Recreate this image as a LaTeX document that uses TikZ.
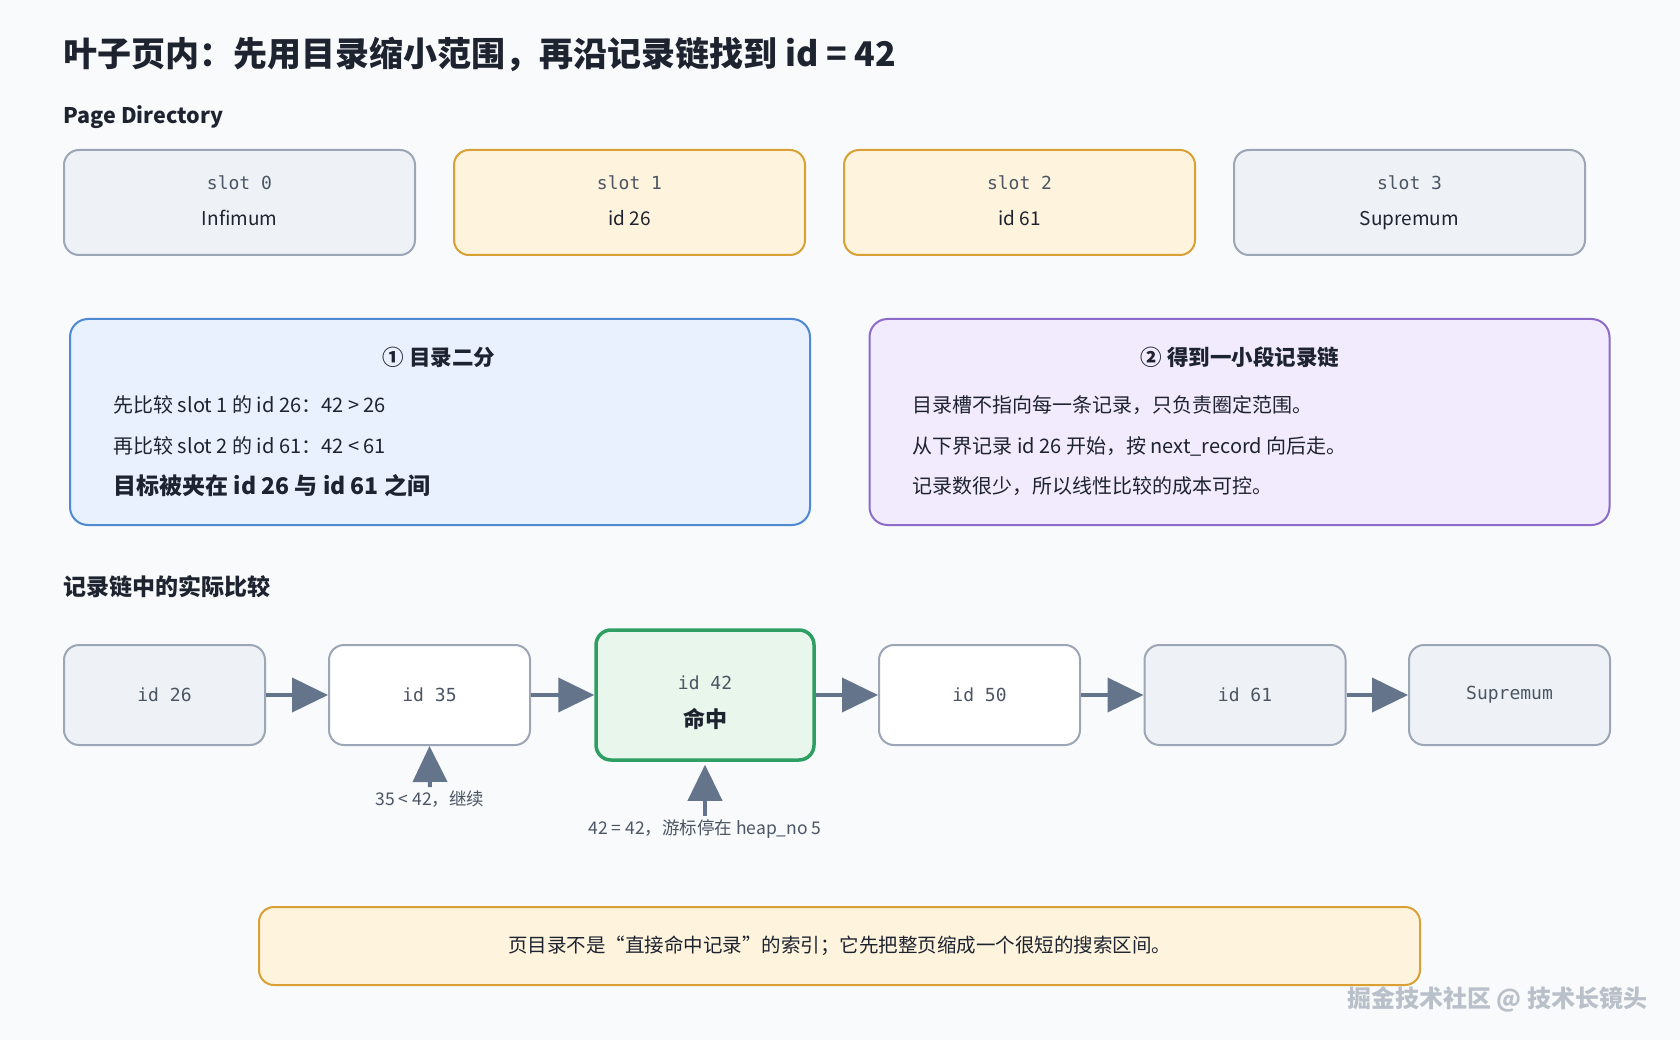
\documentclass[tikz,border=0pt]{standalone}
\usepackage{fontspec}
\setmainfont{Noto Sans CJK SC}
\newfontfamily\monofont{DejaVu Sans Mono}
\usetikzlibrary{arrows.meta}

\definecolor{pagebg}{HTML}{F8FAFC}
\definecolor{inkdark}{HTML}{1E2330}
\definecolor{inkmono}{HTML}{4B5563}
\definecolor{slateline}{HTML}{9CA6B6}
\definecolor{slatefill}{HTML}{EEF2F7}
\definecolor{amberline}{HTML}{D9A036}
\definecolor{amberfill}{HTML}{FEF4DD}
\definecolor{blueline}{HTML}{4F88D3}
\definecolor{bluefill}{HTML}{E8F1FD}
\definecolor{purpleline}{HTML}{8C6BC9}
\definecolor{purplefill}{HTML}{F2EAFD}
\definecolor{greenline}{HTML}{2E9E63}
\definecolor{greenfill}{HTML}{E8F6EC}
\definecolor{arrowgray}{HTML}{64748B}
\definecolor{markgray}{HTML}{B9C0C9}

\newcommand{\fsz}[2]{\fontsize{#1}{#2}\selectfont}

\tikzset{
  slotbox/.style={draw=slateline, fill=slatefill, line width=2pt, rounded corners=15pt,
    minimum width=351pt, minimum height=105pt, align=center, text=inkdark, font=\fsz{19}{24}},
  hotslot/.style={slotbox, draw=amberline, fill=amberfill},
  notebox/.style={line width=2pt, rounded corners=18pt, minimum width=740pt, minimum height=206pt},
  recbox/.style={draw=slateline, fill=slatefill, line width=2pt, rounded corners=15pt,
    minimum width=201pt, minimum height=100pt, align=center, text=inkmono, font=\monofont\fsz{18}{22}},
  hitbox/.style={recbox, draw=greenline, fill=greenfill, line width=3.5pt,
    minimum width=218pt, minimum height=130pt},
  chainarrow/.style={draw=arrowgray, line width=4pt, -{Triangle[length=36pt,width=34pt]}},
  bodyline/.style={anchor=west, text=inkdark, font=\fsz{20}{24}},
  smalllabel/.style={text=inkmono, font=\fsz{17.5}{20}}
}

\begin{document}
\begin{tikzpicture}[x=1pt,y=-1pt]
    \fill[pagebg] (0,0) rectangle (1680,1040);
    \useasboundingbox (0,0) rectangle (1680,1040);

    \node[anchor=west, text=inkdark, font=\bfseries\fsz{34}{40}](title) at (60, 54)
      {叶子页内：先用目录缩小范围，再沿记录链找到 id = 42};
    \node[anchor=west, text=inkdark, font=\bfseries\fsz{21.5}{26}](pdhead) at (60, 117) {Page Directory};

    % page directory slots
    \node[slotbox](s0) at (239.5, 202.5) {{\monofont\color{inkmono}\fsz{18}{24}slot 0\strut}\\[12pt]Infimum\strut};
    \node[hotslot](s1) at (629.5, 202.5) {{\monofont\color{inkmono}\fsz{18}{24}slot 1\strut}\\[12pt]id 26\strut};
    \node[hotslot](s2) at (1019.5, 202.5) {{\monofont\color{inkmono}\fsz{18}{24}slot 2\strut}\\[12pt]id 61\strut};
    \node[slotbox](s3) at (1409.5, 202.5) {{\monofont\color{inkmono}\fsz{18}{24}slot 3\strut}\\[12pt]Supremum\strut};

    % two explanation panels
    \node[notebox, draw=blueline, fill=bluefill](bin) at (440, 422) {};
    \node[text=inkdark, font=\bfseries\fsz{21.5}{26}](bint) at (439, 357) {① 目录二分};
    \node[bodyline](bin1) at (110, 405) {先比较 slot 1 的 id 26：42 > 26};
    \node[bodyline](bin2) at (110, 446) {再比较 slot 2 的 id 61：42 < 61};
    \node[bodyline, font=\bfseries\fsz{23}{26}](bin3) at (110, 486) {目标被夹在 id 26 与 id 61 之间};

    \node[notebox, draw=purpleline, fill=purplefill](seg) at (1239.5, 422) {};
    \node[text=inkdark, font=\bfseries\fsz{21.5}{26}](segt) at (1240, 357) {② 得到一小段记录链};
    \node[bodyline](seg1) at (909, 405) {目录槽不指向每一条记录，只负责圈定范围。};
    \node[bodyline](seg2) at (909, 446) {从下界记录 id 26 开始，按 next\_record 向后走。};
    \node[bodyline](seg3) at (909, 486) {记录数很少，所以线性比较的成本可控。};

    \node[anchor=west, text=inkdark, font=\bfseries\fsz{23}{26}](chhead) at (60, 587) {记录链中的实际比较};

    % record chain
    \node[recbox](r1) at (164.5, 695) {\raisebox{-4pt}{id 26}};
    \node[recbox, fill=white](r2) at (429.5, 695) {\raisebox{-4pt}{id 35}};
    \node[hitbox](r3) at (705, 695) {\rule{0pt}{30pt}id 42\\[16pt]{\normalfont\bfseries\color{inkdark}\fsz{22}{24}命中}};
    \node[recbox, fill=white](r4) at (979.5, 695) {\raisebox{-4pt}{id 50}};
    \node[recbox](r5) at (1245, 695) {\raisebox{-4pt}{id 61}};
    \node[recbox](r6) at (1509.5, 695) {\raisebox{-4pt}{Supremum}};

    \draw[chainarrow] (r1) -- (r2);
    \draw[chainarrow] (r2) -- (r3);
    \draw[chainarrow] (r3) -- (r4);
    \draw[chainarrow] (r4) -- (r5);
    \draw[chainarrow] (r5) -- (r6);

    \node[smalllabel](c1) at (430, 799) {35 < 42，继续};
    \node[smalllabel](c2) at (705, 829) {42 = 42，游标停在 heap\_no 5};
    \draw[chainarrow] (c1.north) -- (r2.south);
    \draw[chainarrow, shorten >=3pt] (c2.north) -- (r3.south);

    % summary
    \node[draw=amberline, fill=amberfill, line width=2pt, rounded corners=15pt,
      minimum width=1161pt, minimum height=78pt, text=inkdark, font=\fsz{19.5}{24}](sum) at (839.5, 946)
      {页目录不是“直接命中记录”的索引；它先把整页缩成一个很短的搜索区间。};

    \node[text=markgray, font=\bfseries\fsz{24}{28}](mark) at (1497, 999) {掘金技术社区 @ 技术长镜头};
\end{tikzpicture}
\end{document}
